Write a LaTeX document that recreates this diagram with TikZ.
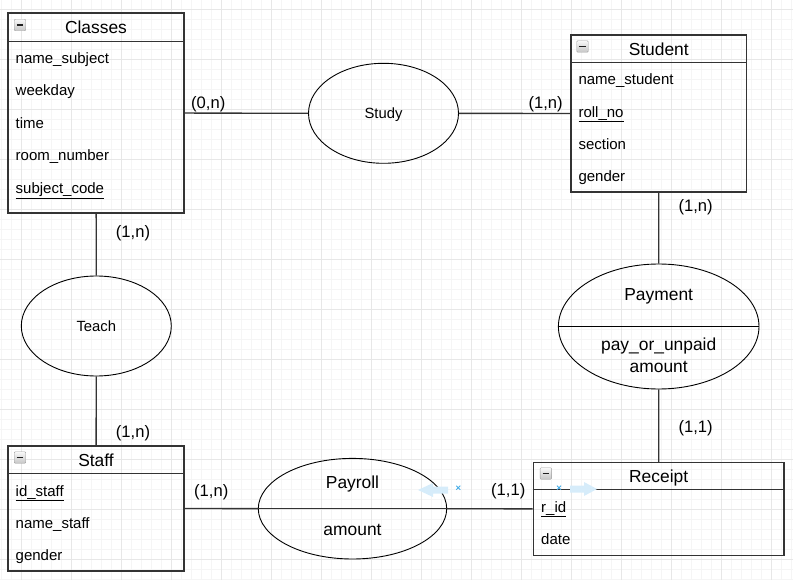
\documentclass[tikz,border=0pt]{standalone}
\usepackage{fontspec}
\setmainfont{Liberation Sans}
\usetikzlibrary{shapes.geometric,positioning}
\definecolor{gridmin}{RGB}{245,245,245}
\definecolor{gridmaj}{RGB}{231,231,231}
\definecolor{edgecol}{RGB}{51,51,51}
\definecolor{hint}{RGB}{214,236,250}
\definecolor{hintx}{RGB}{70,172,230}

\begin{document}
\begin{tikzpicture}[
  x=1pt, y=-1pt,
  entity/.style = {
    rectangle, draw=edgecol, line width=1.3pt,
    inner sep=0pt
  },
  headline/.style = {draw=edgecol, line width=1.3pt},
  headtext/.style = {anchor=base, inner sep=0pt, font=\fontsize{17.4}{20}\selectfont},
  attr/.style     = {anchor=base west, inner sep=0pt, font=\fontsize{15}{18}\selectfont},
  relation/.style = {
    ellipse, draw=black, line width=0.9pt,
    inner sep=0pt, text depth=0pt,
    font=\fontsize{14.8}{17}\selectfont
  },
  reltext/.style  = {anchor=base, inner sep=0pt, font=\fontsize{17.4}{20}\selectfont},
  card/.style     = {anchor=base west, inner sep=0pt, font=\fontsize{16.6}{19}\selectfont},
  link/.style     = {draw=edgecol, line width=1.3pt},
  divider/.style  = {draw=black, line width=0.9pt},
  iconbox/.style  = {
    rectangle, rounded corners=1pt, draw=gray!75,
    top color=gray!5, bottom color=gray!45,
    minimum width=11.5pt, minimum height=11.5pt, inner sep=0pt
  },
  gridminor/.style = {draw=gridmin, line width=0.8pt},
  gridmajor/.style = {draw=gridmaj, line width=0.8pt}
]

\useasboundingbox (0,0) rectangle (793,580);

%% ---------- Background grid ----------
\foreach \gx in {1.7,11.7,...,792} \draw[gridminor] (\gx,0) -- (\gx,580);
\foreach \gy in {9.3,19.3,...,580} \draw[gridminor] (0,\gy) -- (793,\gy);
\foreach \gx in {21.7,71.7,...,792} \draw[gridmajor] (\gx,0) -- (\gx,580);
\foreach \gy in {9.3,59.3,...,580} \draw[gridmajor] (0,\gy) -- (793,\gy);

%% ---------- Entities ----------
\node[entity, minimum width=176pt, minimum height=200pt] (classes) at (96,113) {};
\draw[headline] ([yshift=-29pt]classes.north west) -- ([yshift=-29pt]classes.north east);
\node[iconbox] (classes-icon) at (20,25) {\textcolor{gray!25!black}{\rule{6.5pt}{1.6pt}}};
\node[headtext] (classes-title) at ([yshift=-21.5pt]classes.north) {Classes};
\node[attr] (classes-a1) at (15.5,63.5)  {name\_subject};
\node[attr] (classes-a2) at (15.5,96)    {weekday};
\node[attr] (classes-a3) at (15.5,128.5) {time};
\node[attr] (classes-a4) at (15.5,161)   {room\_number};
\node[attr] (classes-a5) at (15.5,193.5) {\underline{subject\_code}};

\node[entity, minimum width=175.5pt, minimum height=157pt] (student) at (658.75,113.5) {};
\draw[headline] ([yshift=-28pt]student.north west) -- ([yshift=-28pt]student.north east);
\node[iconbox] (student-icon) at (582.5,46.5) {\textcolor{gray!25!black}{\rule{6.5pt}{1.6pt}}};
\node[headtext] (student-title) at ([yshift=-21pt]student.north) {Student};
\node[attr] (student-a1) at (578.3,85)    {name\_student};
\node[attr] (student-a2) at (578.3,117.3) {\underline{roll\_no}};
\node[attr] (student-a3) at (578.3,150)   {section};
\node[attr] (student-a4) at (578.3,182)   {gender};

\node[entity, minimum width=176pt, minimum height=125pt] (staff) at (96,508.5) {};
\draw[headline] ([yshift=-28pt]staff.north west) -- ([yshift=-28pt]staff.north east);
\node[iconbox] (staff-icon) at (20,457.5) {\textcolor{gray!25!black}{\rule{6.5pt}{1.6pt}}};
\node[headtext] (staff-title) at ([yshift=-21pt]staff.north) {Staff};
\node[attr] (staff-a1) at (15.5,496)   {\underline{id\_staff}};
\node[attr] (staff-a2) at (15.5,528.3) {name\_staff};
\node[attr] (staff-a3) at (15.5,560.5) {gender};

\node[entity, minimum width=250.7pt, minimum height=92.6pt] (receipt) at (658.65,509) {};
\draw[headline] ([yshift=-27.5pt]receipt.north west) -- ([yshift=-27.5pt]receipt.north east);
\node[iconbox] (receipt-icon) at (545.8,473.5) {\textcolor{gray!25!black}{\rule{6.5pt}{1.6pt}}};
\node[headtext] (receipt-title) at ([yshift=-20.3pt]receipt.north) {Receipt};
\node[attr] (receipt-a1) at (541,512.3) {\underline{r\_id}};
\node[attr] (receipt-a2) at (541,544.3) {date};

%% ---------- Relationships ----------
\node[relation, minimum width=150pt, minimum height=100pt] (study) at (383.5,113.3) {Study};
\node[relation, minimum width=150pt, minimum height=100pt] (teach) at (96.3,326) {Teach};

\node[relation, minimum width=200.6pt, minimum height=125pt] (payment) at (658.7,326.5) {};
\draw[divider] (payment.west) -- (payment.east);
\node[reltext] (payment-name) at (658.7,300.7) {Payment};
\node[reltext] (payment-a1)   at (658.7,350)   {pay\_or\_unpaid};
\node[reltext] (payment-a2)   at (658.7,372.3) {amount};

\node[relation, minimum width=188.4pt, minimum height=100.6pt] (payroll) at (352.5,508.7) {};
\draw[link] (payroll.west) -- (payroll.east);
\node[reltext] (payroll-name) at (352.5,488.3) {Payroll};
\node[reltext] (payroll-a1)   at (352.5,535.7) {amount};

%% ---------- Connectors ----------
\draw[link] (classes) -- (study);
\draw[link] (study)   -- (student);
\draw[link] (classes) -- (teach);
\draw[link] (teach)   -- (staff);
\draw[link] (student) -- (payment);
\draw[link] (payment) -- (receipt);
\draw[link] (staff)   -- (payroll);
\draw[link] (payroll) -- (receipt);

% cardinalities
\node[card] (card-cs) at (191,108.3)   {(0,n)};
\node[card] (card-ss) at (528.3,108.3) {(1,n)};
\node[card] (card-ct) at (115.7,237.3) {(1,n)};
\node[card] (card-ts) at (115.7,437.3) {(1,n)};
\node[card] (card-sp) at (678.3,211.7) {(1,n)};
\node[card] (card-pr) at (678.3,432.3) {(1,1)};
\node[card] (card-sy) at (194,496)     {(1,n)};
\node[card] (card-yr) at (491,495)     {(1,1)};

%% ---------- Hover hints ----------
\fill[hint] (418,490) -- (433,483) -- (433,486.5) -- (448,486.5) -- (448,493.5)
            -- (433,493.5) -- (433,497) -- cycle;
\fill[hint] (597,489) -- (584,482) -- (584,485.5) -- (570,485.5) -- (570,492.5)
            -- (584,492.5) -- (584,496) -- cycle;
\draw[hintx, line width=0.9pt] (456.3,485.7) -- (460.3,489.7) (456.3,489.7) -- (460.3,485.7);
\draw[hintx, line width=0.9pt] (557,485.7) -- (561,489.7) (557,489.7) -- (561,485.7);

\end{tikzpicture}
\end{document}
